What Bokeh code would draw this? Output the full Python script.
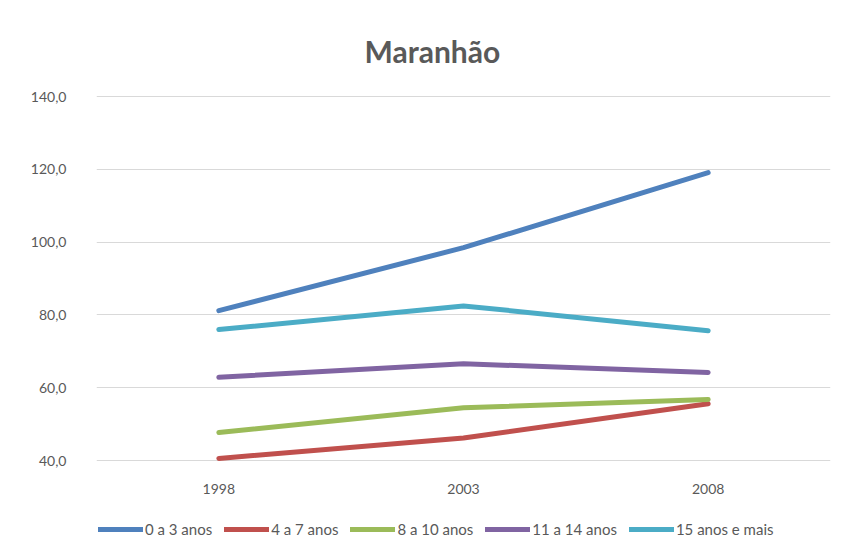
from bokeh.plotting import figure
from bokeh.models import Range1d, FixedTicker, Legend, LegendItem, Title
from bokeh.core.properties import value
from bokeh.embed import file_html
from bokeh.resources import INLINE

years = ["1998", "2003", "2008"]
s_0_3 = [81.2, 98.5, 119.1]
s_4_7 = [40.6, 46.2, 55.6]
s_8_10 = [47.7, 54.5, 56.8]
s_11_14 = [62.9, 66.6, 64.2]
s_15 = [76.0, 82.5, 75.7]
names = ["0 a 3 anos", "4 a 7 anos", "8 a 10 anos", "11 a 14 anos", "15 anos e mais"]
colors = ["#4F81BD", "#C0504D", "#9BBB59", "#8064A2", "#4BACC6"]
y_ticks = [40, 60, 80, 100, 120, 140]
y_tick_labels = ["40,0", "60,0", "80,0", "100,0", "120,0", "140,0"]

FONT = "Lato"
GRAY = "#595959"
Y_MIN = 40
LABEL_GAP = 7.7  # distance (data units) of year labels below the 40 baseline

p = figure(x_range=years, y_range=Range1d(16.4, 140.3), frame_width=734, frame_height=451,
           output_backend="svg", toolbar_location=None, title=None, x_axis_location=None,
           min_border_left=96, min_border_right=11, min_border_top=95, min_border_bottom=8)
p.outline_line_color = None
p.background_fill_color = "white"
p.border_fill_color = "white"

renderers = []
for vals, c in zip([s_0_3, s_4_7, s_8_10, s_11_14, s_15], colors):
    r = p.line(years, vals, line_color=c, line_width=5, line_cap="round", line_join="round")
    renderers.append(r)

# category labels under the baseline
p.text(x=years, y=[Y_MIN - LABEL_GAP] * len(years), text=years,
       text_font=value(FONT), text_font_size=value("14px"), text_color=GRAY,
       text_align="center", text_baseline="middle")

p.yaxis.ticker = FixedTicker(ticks=y_ticks)
p.yaxis.major_label_overrides = {t: l for t, l in zip(y_ticks, y_tick_labels)}
p.yaxis.axis_line_color = None
p.yaxis.major_tick_line_color = None
p.yaxis.minor_tick_line_color = None
p.yaxis.major_label_standoff = 24
p.yaxis.major_label_text_font = FONT
p.yaxis.major_label_text_font_size = "14px"
p.yaxis.major_label_text_color = GRAY
p.xgrid.grid_line_color = None
p.ygrid.grid_line_color = "#d9d9d9"
p.ygrid.grid_line_width = 1

title = Title(text="Maranhão", align="left", offset=268, standoff=53,
              text_font=FONT, text_font_style="bold", text_font_size="30px",
              text_color=GRAY)
p.add_layout(title, "above")

legend = Legend(items=[LegendItem(label=n, renderers=[r]) for n, r in zip(names, renderers)],
                orientation="horizontal", location=(2, 8),
                glyph_width=45, glyph_height=14, label_standoff=2, spacing=12,
                label_text_font=FONT, label_text_font_size="15px", label_text_color=GRAY,
                border_line_color=None, background_fill_alpha=0, padding=0, margin=0)
p.add_layout(legend, "center")

open("out.html", "w").write(file_html(p, INLINE))
